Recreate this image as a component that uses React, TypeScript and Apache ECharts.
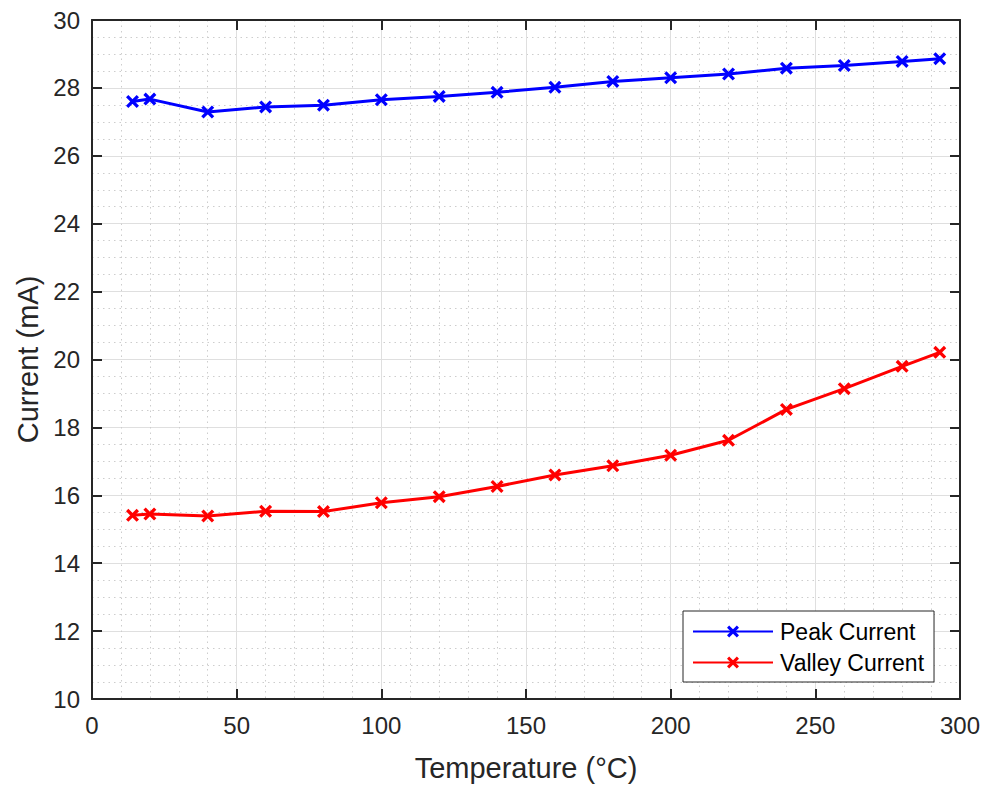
import React, { useEffect, useRef } from "react";
import * as echarts from "echarts";

const temperatures = [14, 20, 40, 60, 80, 100, 120, 140, 160, 180, 200, 220, 240, 260, 280, 293];
const peakCurrent = [27.6, 27.67, 27.29, 27.44, 27.49, 27.65, 27.75, 27.87, 28.02, 28.19, 28.3, 28.41, 28.58, 28.66, 28.78, 28.86];
const valleyCurrent = [15.41, 15.45, 15.39, 15.53, 15.52, 15.78, 15.96, 16.26, 16.6, 16.87, 17.18, 17.62, 18.53, 19.14, 19.8, 20.21];
const seriesNames = ["Peak Current", "Valley Current"];
const xAxisTitle = "Temperature (°C)";
const yAxisTitle = "Current (mA)";

const FONT = "'Liberation Sans', Arial, Helvetica, sans-serif";
const AXIS_COLOR = "#262626";
const X_SYMBOL = "path://M0,1.8 L1.8,0 L10,8.2 L8.2,10 Z M8.2,0 L10,1.8 L1.8,10 L0,8.2 Z";

export default function App() {
  const ref = useRef<HTMLDivElement>(null);

  useEffect(() => {
    if (!ref.current) return;
    const chart = echarts.init(ref.current, undefined, { renderer: "svg" });

    const pair = (xs: number[], ys: number[]) => xs.map((x, i) => [x, ys[i]]);

    const mirrorTick = { show: true, inside: true, length: 10, lineStyle: { color: AXIS_COLOR, width: 2 } };

    chart.setOption({
      animation: false,
      backgroundColor: "#ffffff",
      textStyle: { fontFamily: FONT },
      grid: { left: 92, right: 27, top: 20, bottom: 84, containLabel: false },
      legend: {
        show: true,
        orient: "vertical",
        left: 683,
        top: 611,
        padding: [9, 10, 8, 9],
        itemGap: 8,
        itemWidth: 80,
        itemHeight: 15,
        backgroundColor: "#ffffff",
        borderColor: AXIS_COLOR,
        borderWidth: 1,
        borderRadius: 0,
        textStyle: { fontFamily: FONT, fontSize: 23, color: "#000000", lineHeight: 22, padding: [0, 0, 0, 2] },
        data: seriesNames,
      },
      xAxis: [
        {
          type: "value",
          min: 0,
          max: 300,
          interval: 50,
          position: "bottom",
          name: xAxisTitle,
          nameLocation: "middle",
          nameGap: 54,
          nameTextStyle: { fontFamily: FONT, fontSize: 29, color: AXIS_COLOR },
          axisLine: { show: true, onZero: false, lineStyle: { color: AXIS_COLOR, width: 2 } },
          axisTick: mirrorTick,
          axisLabel: { color: AXIS_COLOR, fontSize: 24, fontFamily: FONT, margin: 14 },
          splitLine: { show: true, lineStyle: { color: "#dfdfdf", width: 1 } },
          minorTick: { show: false, splitNumber: 5 },
          minorSplitLine: { show: true, lineStyle: { color: "#cdcdcd", width: 1, type: [1.5, 4] } },
        },
        {
          type: "value",
          min: 0,
          max: 300,
          interval: 50,
          position: "top",
          axisLine: { show: true, onZero: false, lineStyle: { color: AXIS_COLOR, width: 2 } },
          axisTick: mirrorTick,
          axisLabel: { show: false },
          splitLine: { show: false },
        },
      ],
      yAxis: [
        {
          type: "value",
          min: 10,
          max: 30,
          interval: 2,
          position: "left",
          name: yAxisTitle,
          nameLocation: "middle",
          nameGap: 48,
          nameTextStyle: { fontFamily: FONT, fontSize: 29, color: AXIS_COLOR },
          axisLine: { show: true, onZero: false, lineStyle: { color: AXIS_COLOR, width: 2 } },
          axisTick: mirrorTick,
          axisLabel: { color: AXIS_COLOR, fontSize: 24, fontFamily: FONT, margin: 12 },
          splitLine: { show: true, lineStyle: { color: "#dfdfdf", width: 1 } },
          minorTick: { show: false, splitNumber: 4 },
          minorSplitLine: { show: true, lineStyle: { color: "#cdcdcd", width: 1, type: [1.5, 4] } },
        },
        {
          type: "value",
          min: 10,
          max: 30,
          interval: 2,
          position: "right",
          axisLine: { show: true, onZero: false, lineStyle: { color: AXIS_COLOR, width: 2 } },
          axisTick: mirrorTick,
          axisLabel: { show: false },
          splitLine: { show: false },
        },
      ],
      series: [
        {
          name: seriesNames[0],
          type: "line",
          xAxisIndex: 0,
          yAxisIndex: 0,
          data: pair(temperatures, peakCurrent),
          symbol: X_SYMBOL,
          symbolSize: 13,
          showAllSymbol: true,
          lineStyle: { color: "#0000ff", width: 3 },
          itemStyle: { color: "#0000ff" },
        },
        {
          name: seriesNames[1],
          type: "line",
          xAxisIndex: 0,
          yAxisIndex: 0,
          data: pair(temperatures, valleyCurrent),
          symbol: X_SYMBOL,
          symbolSize: 13,
          showAllSymbol: true,
          lineStyle: { color: "#ff0000", width: 3 },
          itemStyle: { color: "#ff0000" },
        },
      ],
    });

    return () => chart.dispose();
  }, []);

  return (
    <div
      ref={ref}
      style={{ position: "fixed", left: 0, top: 0, width: 987, height: 787, background: "#ffffff" }}
    />
  );
}
